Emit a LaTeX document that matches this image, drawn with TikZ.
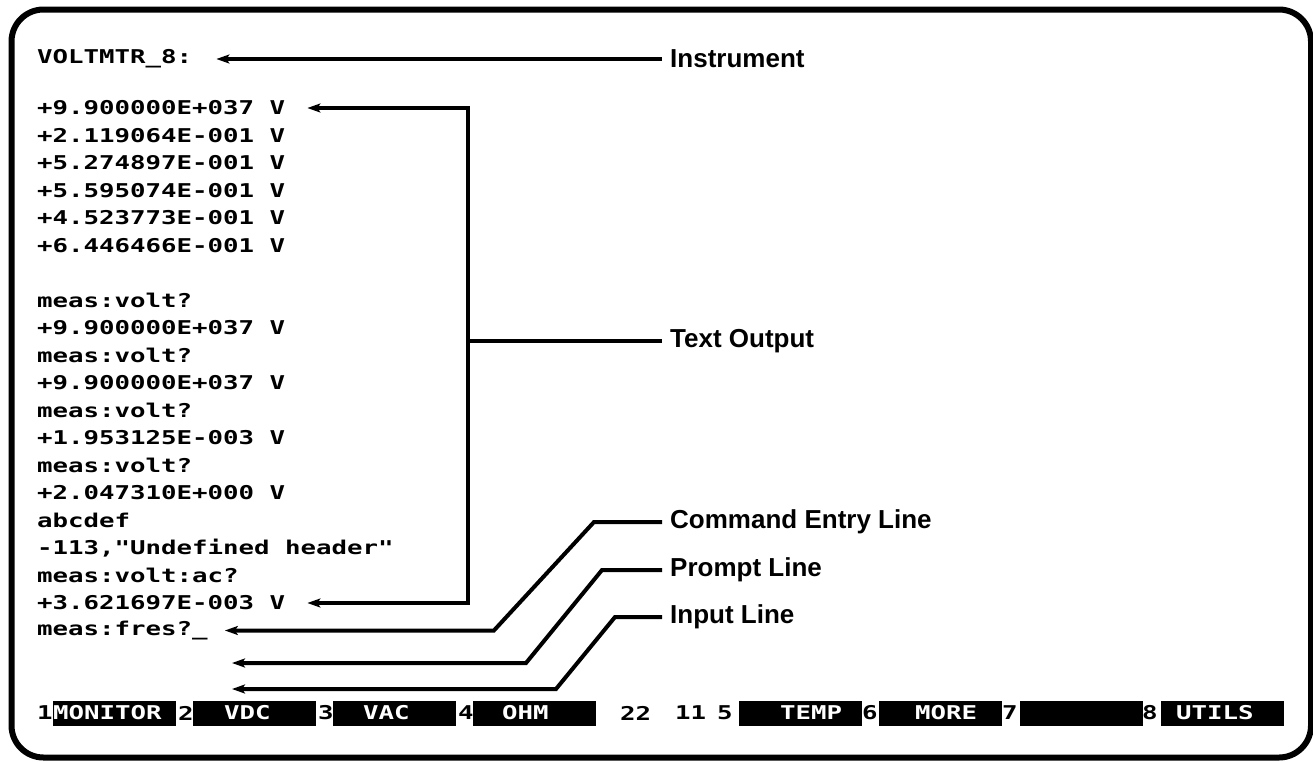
\documentclass[tikz,border=0pt]{standalone}
\usepackage{fontspec}
\usetikzlibrary{arrows.meta}
\newfontfamily\termfont[FakeStretch=1.355]{DejaVu Sans Mono}
\newfontfamily\lblfont{Liberation Sans}

\begin{document}
\begin{tikzpicture}[x=1pt,y=-1pt,
  term/.style={anchor=west,inner xsep=0pt,inner ysep=1pt,
    font=\termfont\bfseries\fontsize{19}{21}\selectfont},
  lbl/.style={anchor=west,inner xsep=8pt,
    font=\lblfont\bfseries\fontsize{26}{30}\selectfont},
  ptr/.style={-{Stealth[length=13pt,width=9pt,inset=3pt]},line width=4pt},
  key/.style={term,fill=black,text=white,minimum height=25pt,
    text width=123pt,align=left}]
  \useasboundingbox (0,0) rectangle (1313,761);
  \draw[line width=6pt,rounded corners=32pt] (11.5,9.5) rectangle (1311,757.5);

  \node[term] (inst) at (37,59) {VOLTMTR\_8:};
  \foreach \txt [count=\i] in {+9.900000E+037 V, +2.119064E-001 V,
      +5.274897E-001 V, +5.595074E-001 V, +4.523773E-001 V, +6.446466E-001 V,
      {}, meas:volt?, +9.900000E+037 V, meas:volt?, +9.900000E+037 V,
      meas:volt?, +1.953125E-003 V, meas:volt?, +2.047310E+000 V, abcdef,
      {-113,"Undefined header"}, meas:volt:ac?, +3.621697E-003 V, meas:fres?\_}
    \node[term] (l\i) at (37,{108+27.5*(\i-1)}) {\txt};
  \coordinate (prm) at (232,663);
  \coordinate (inp) at (232,689);

  % soft keys
  \foreach \n/\dx/\bx/\pad/\name in {1/37/53/0/MONITOR, 2/178/193/31/VDC,
      3/318/333/30/VAC, 4/458/473/29/OHM, 5/717/739/41/TEMP,
      6/862/879/36/MORE, 7/1002/1020/0/{}, 8/1142/1161/15/UTILS}{
    \node[term] (d\n) at (\dx,713) {\n};
    \node[key] (k\n) at (\bx,713) {\hspace*{\pad pt}\name};
  }
  \node[term] (c22) at (620,713) {22};
  \node[term] (c11) at (675,713) {11};

  \node[lbl] (instlbl) at (662,59) {Instrument};
  \node[lbl] (outlbl) at (662,341) {Text Output};
  \node[lbl] (cmdlbl) at (662,522) {Command Entry Line};
  \node[lbl] (prmlbl) at (662,570) {Prompt Line};
  \node[lbl] (inplbl) at (662,617) {Input Line};
  \coordinate (outj) at (468,341);

  \draw[ptr,shorten >=24pt] (instlbl.west) -- (inst.east);
  \draw[line width=4pt] (outlbl.west) -- (outj);
  \draw[ptr,shorten >=22pt] (outj) |- (l1.east);
  \draw[ptr,shorten >=22pt] (outj) |- (l19.east);
  \draw[ptr,shorten >=17pt] (cmdlbl.west) -- ++(-68,0)
    -- ([xshift=286pt]l20.east) -- (l20.east);
  \draw[ptr] (prmlbl.west) -- ++(-60,0) -- ++(-76,93) -- (prm);
  \draw[ptr] (inplbl.west) -- ++(-47,0) -- ++(-59,72) -- (inp);
\end{tikzpicture}
\end{document}
